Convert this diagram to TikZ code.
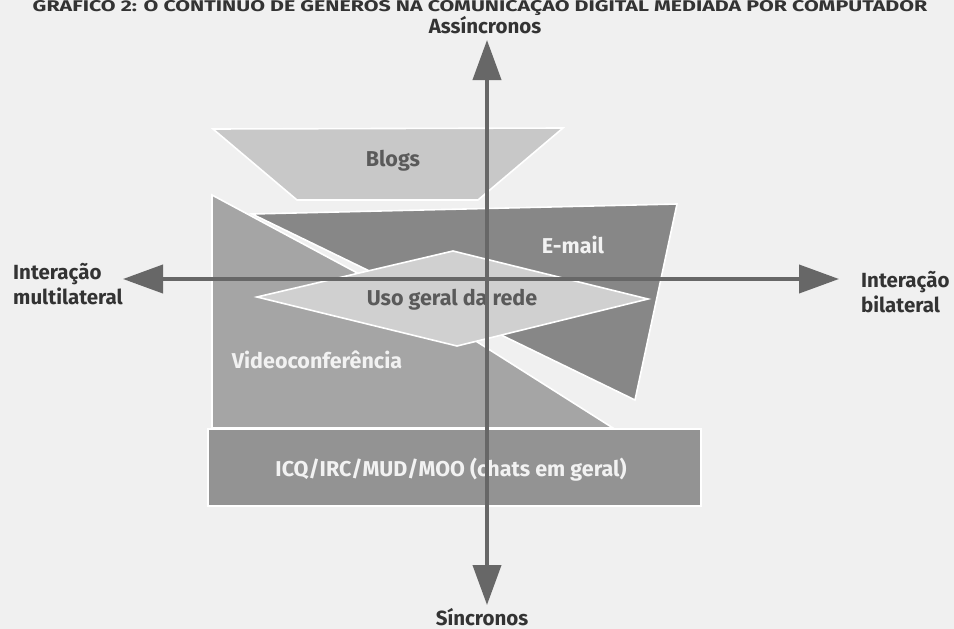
\documentclass[tikz,border=0pt]{standalone}
\usepackage{fontspec}
\setmainfont{Fira Sans}
\usetikzlibrary{arrows.meta}
\definecolor{bgc}{HTML}{F0F0F0}
\definecolor{blogc}{HTML}{C8C8C8}
\definecolor{mailc}{HTML}{878787}
\definecolor{videoc}{HTML}{A5A5A5}
\definecolor{usoc}{HTML}{D0D0D0}
\definecolor{icqc}{HTML}{939393}
\definecolor{axisc}{HTML}{676767}
\definecolor{darktext}{HTML}{333333}
\definecolor{midtext}{HTML}{5A5A5A}
\definecolor{lighttext}{HTML}{F2F2F2}
\tikzset{
  area/.style={draw=white, line width=1.6pt, line join=miter},
  axisline/.style={draw=axisc, line width=4pt, {Triangle[length=40pt,width=28pt]}-{Triangle[length=40pt,width=28pt]}},
  axislabel/.style={font=\fontsize{20.5}{25}\selectfont\bfseries, text=darktext, inner sep=0pt},
  darklabel/.style={font=\fontsize{21.5}{24}\selectfont\bfseries, text=midtext, inner sep=0pt},
  lightlabel/.style={font=\fontsize{21.5}{24}\selectfont\bfseries, text=lighttext, inner sep=0pt},
}
\begin{document}
\begin{tikzpicture}[x=1pt,y=-1pt]
\fill[bgc] (0,0) rectangle (954,629);
\useasboundingbox (0,0) rectangle (954,629);
% title (cut at top in the scan)
\node[font=\fontsize{15.5}{16}\selectfont\bfseries, text=darktext, inner sep=0pt, anchor=base, xscale=1.38, transform shape] (title) at (480,11) {GRÁFICO 2: O CONTÍNUO DE GÊNEROS NA COMUNICAÇÃO DIGITAL MEDIADA POR COMPUTADOR};
% areas
\path[area, fill=blogc] (213,129) -- (563,128) -- (478,200) -- (297,200) -- cycle;
\path[area, fill=videoc] (212,195) -- (430,312) -- (613,428) -- (212,428) -- cycle;
\path[area, fill=mailc] (252,214) -- (677,204) -- (635,400) -- cycle;
\path[area, fill=usoc] (257,297) -- (453,251) -- (648,299) -- (457,346) -- cycle;
\path[area, fill=icqc] (208,429) rectangle (701,506);
% area labels
\node[darklabel] (blogs) at (393,161) {Blogs};
\node[lightlabel] (email) at (573,245) {E-mail};
\node[darklabel] (uso) at (452,300) {Uso geral da rede};
\node[lightlabel] (video) at (317,360) {Videoconferência};
\node[lightlabel] (icq) at (451,470) {ICQ/IRC/MUD/MOO (chats em geral)};
% axes
\coordinate (ytop) at (487,40);
\coordinate (ybot) at (487,605);
\coordinate (xleft) at (123,279);
\coordinate (xright) at (839,279);
\draw[axisline] (ybot) -- (ytop);
\draw[axisline] (xleft) -- (xright);
% axis labels
\node[axislabel] (assinc) at (485,25) {Assíncronos};
\node[axislabel] (sinc) at (482,617) {Síncronos};
\node[axislabel, anchor=west, align=left] (multi) at (13,284) {Interação\\multilateral};
\node[axislabel, anchor=west, align=left] (bi) at (861,292) {Interação\\bilateral};
\end{tikzpicture}
\end{document}
